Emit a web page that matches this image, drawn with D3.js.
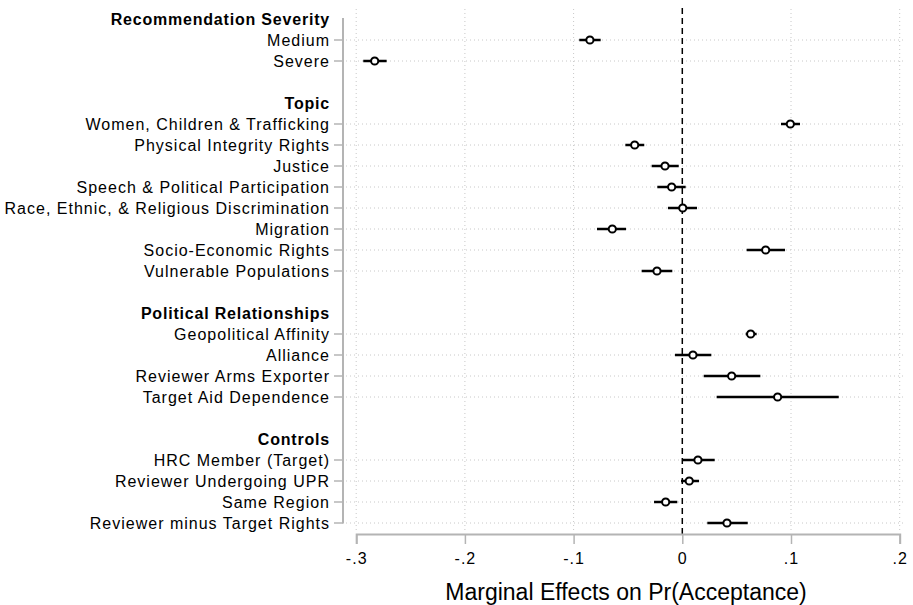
<!DOCTYPE html>
<html><head><meta charset="utf-8">
<script src="https://cdn.jsdelivr.net/npm/d3@7"></script>
<style>body{margin:0;background:#fff;} text{font-family:"Liberation Sans",Arial,sans-serif;}</style>
</head><body><svg id="c" width="913" height="605"></svg>
<script>
// rows: header rows have null values
const labels = ["Recommendation Severity","Medium","Severe","",
 "Topic","Women, Children & Trafficking","Physical Integrity Rights","Justice","Speech & Political Participation","Race, Ethnic, & Religious Discrimination","Migration","Socio-Economic Rights","Vulnerable Populations","",
 "Political Relationships","Geopolitical Affinity","Alliance","Reviewer Arms Exporter","Target Aid Dependence","",
 "Controls","HRC Member (Target)","Reviewer Undergoing UPR","Same Region","Reviewer minus Target Rights"];
const isHeader = [1,0,0,2, 1,0,0,0,0,0,0,0,0,2, 1,0,0,0,0,2, 1,0,0,0,0];
const estimates = [null,-0.085,-0.283,null, null,0.0994,-0.0438,-0.0159,-0.0098,0.0004,-0.0644,0.0767,-0.0233,null, null,0.0629,0.0098,0.0454,0.0877,null, null,0.0144,0.0064,-0.0153,0.0411];
const lower = [null,-0.0948,-0.2935,null, null,0.0908,-0.0524,-0.0282,-0.023,-0.0132,-0.0785,0.0592,-0.0374,null, null,0.0583,-0.0067,0.0197,0.0316,null, null,0.0,-0.0012,-0.026,0.023];
const upper = [null,-0.0751,-0.272,null, null,0.1083,-0.035,-0.0033,0.0031,0.0135,-0.0518,0.0945,-0.0092,null, null,0.0684,0.0267,0.0718,0.1439,null, null,0.0298,0.0154,-0.0046,0.0602];
const xTicks = [-0.3,-0.2,-0.1,0,0.1,0.2];
const xTickLabels = ["-.3","-.2","-.1","0",".1",".2"];
const xTitle = "Marginal Effects on Pr(Acceptance)";

const svg = d3.select("#c");
const x = d3.scaleLinear().domain([-0.3,0.2]).range([356.2,899.7]);
const y = d3.scalePoint().domain(d3.range(labels.length)).range([19,523]);
const gray = "#b4b4b4";

// vertical gridlines
svg.append("g").selectAll("line").data(xTicks.filter(d=>d!==0)).join("line")
  .attr("x1",d=>x(d)).attr("x2",d=>x(d)).attr("y1",9).attr("y2",533)
  .attr("stroke","#c8c8c8").attr("stroke-width",1).attr("stroke-dasharray","1,3");
// horizontal gridlines
const rows = d3.range(labels.length).filter(i=>isHeader[i]===0);
svg.append("g").selectAll("line").data(rows).join("line")
  .attr("x1",346).attr("x2",906).attr("y1",i=>y(i)).attr("y2",i=>y(i))
  .attr("stroke","#c8c8c8").attr("stroke-width",1).attr("stroke-dasharray","1,3");
// zero line
svg.append("line").attr("x1",x(0)).attr("x2",x(0)).attr("y1",8).attr("y2",534)
  .attr("stroke","#000").attr("stroke-width",1.5).attr("stroke-dasharray","6,4");

// y axis
svg.append("line").attr("x1",343).attr("x2",343).attr("y1",18).attr("y2",523.5)
  .attr("stroke",gray).attr("stroke-width",2);
svg.append("g").selectAll("line").data(rows).join("line")
  .attr("x1",334).attr("x2",343).attr("y1",i=>y(i)).attr("y2",i=>y(i))
  .attr("stroke",gray).attr("stroke-width",1.5);
svg.append("g").selectAll("text").data(d3.range(labels.length).filter(i=>isHeader[i]!==2)).join("text")
  .attr("x",330).attr("y",i=>y(i)).attr("dy","0.35em").attr("text-anchor","end")
  .attr("font-size",16).attr("font-weight",i=>isHeader[i]===1?"bold":"normal")
  .attr("letter-spacing",i=>isHeader[i]===1?"0.8px":"1px")
  .attr("fill","#000").text(i=>labels[i]);

// x axis
const xAxis = d3.axisBottom(x).tickValues(xTicks).tickFormat((d,i)=>xTickLabels[i]).tickSize(10).tickPadding(9);
const gx = svg.append("g").attr("transform","translate(0,534)").call(xAxis);
gx.select(".domain").attr("stroke",gray).attr("stroke-width",2);
gx.selectAll(".tick line").attr("stroke",gray).attr("stroke-width",1.5);
gx.selectAll(".tick text").attr("font-size",16).attr("letter-spacing","1px").attr("fill","#000").attr("font-family","Liberation Sans, Arial, sans-serif");
svg.append("text").attr("x",626).attr("y",600).attr("text-anchor","middle")
  .attr("font-size",23).attr("fill","#000").text(xTitle);

// CIs and points
const pts = d3.range(labels.length).filter(i=>estimates[i]!==null);
svg.append("g").selectAll("line").data(pts).join("line")
  .attr("x1",i=>x(lower[i])).attr("x2",i=>x(upper[i])).attr("y1",i=>y(i)).attr("y2",i=>y(i))
  .attr("stroke","#000").attr("stroke-width",2.5);
svg.append("g").selectAll("circle").data(pts).join("circle")
  .attr("cx",i=>x(estimates[i])).attr("cy",i=>y(i)).attr("r",3.6)
  .attr("fill","#fff").attr("stroke","#000").attr("stroke-width",2);
</script></body></html>
